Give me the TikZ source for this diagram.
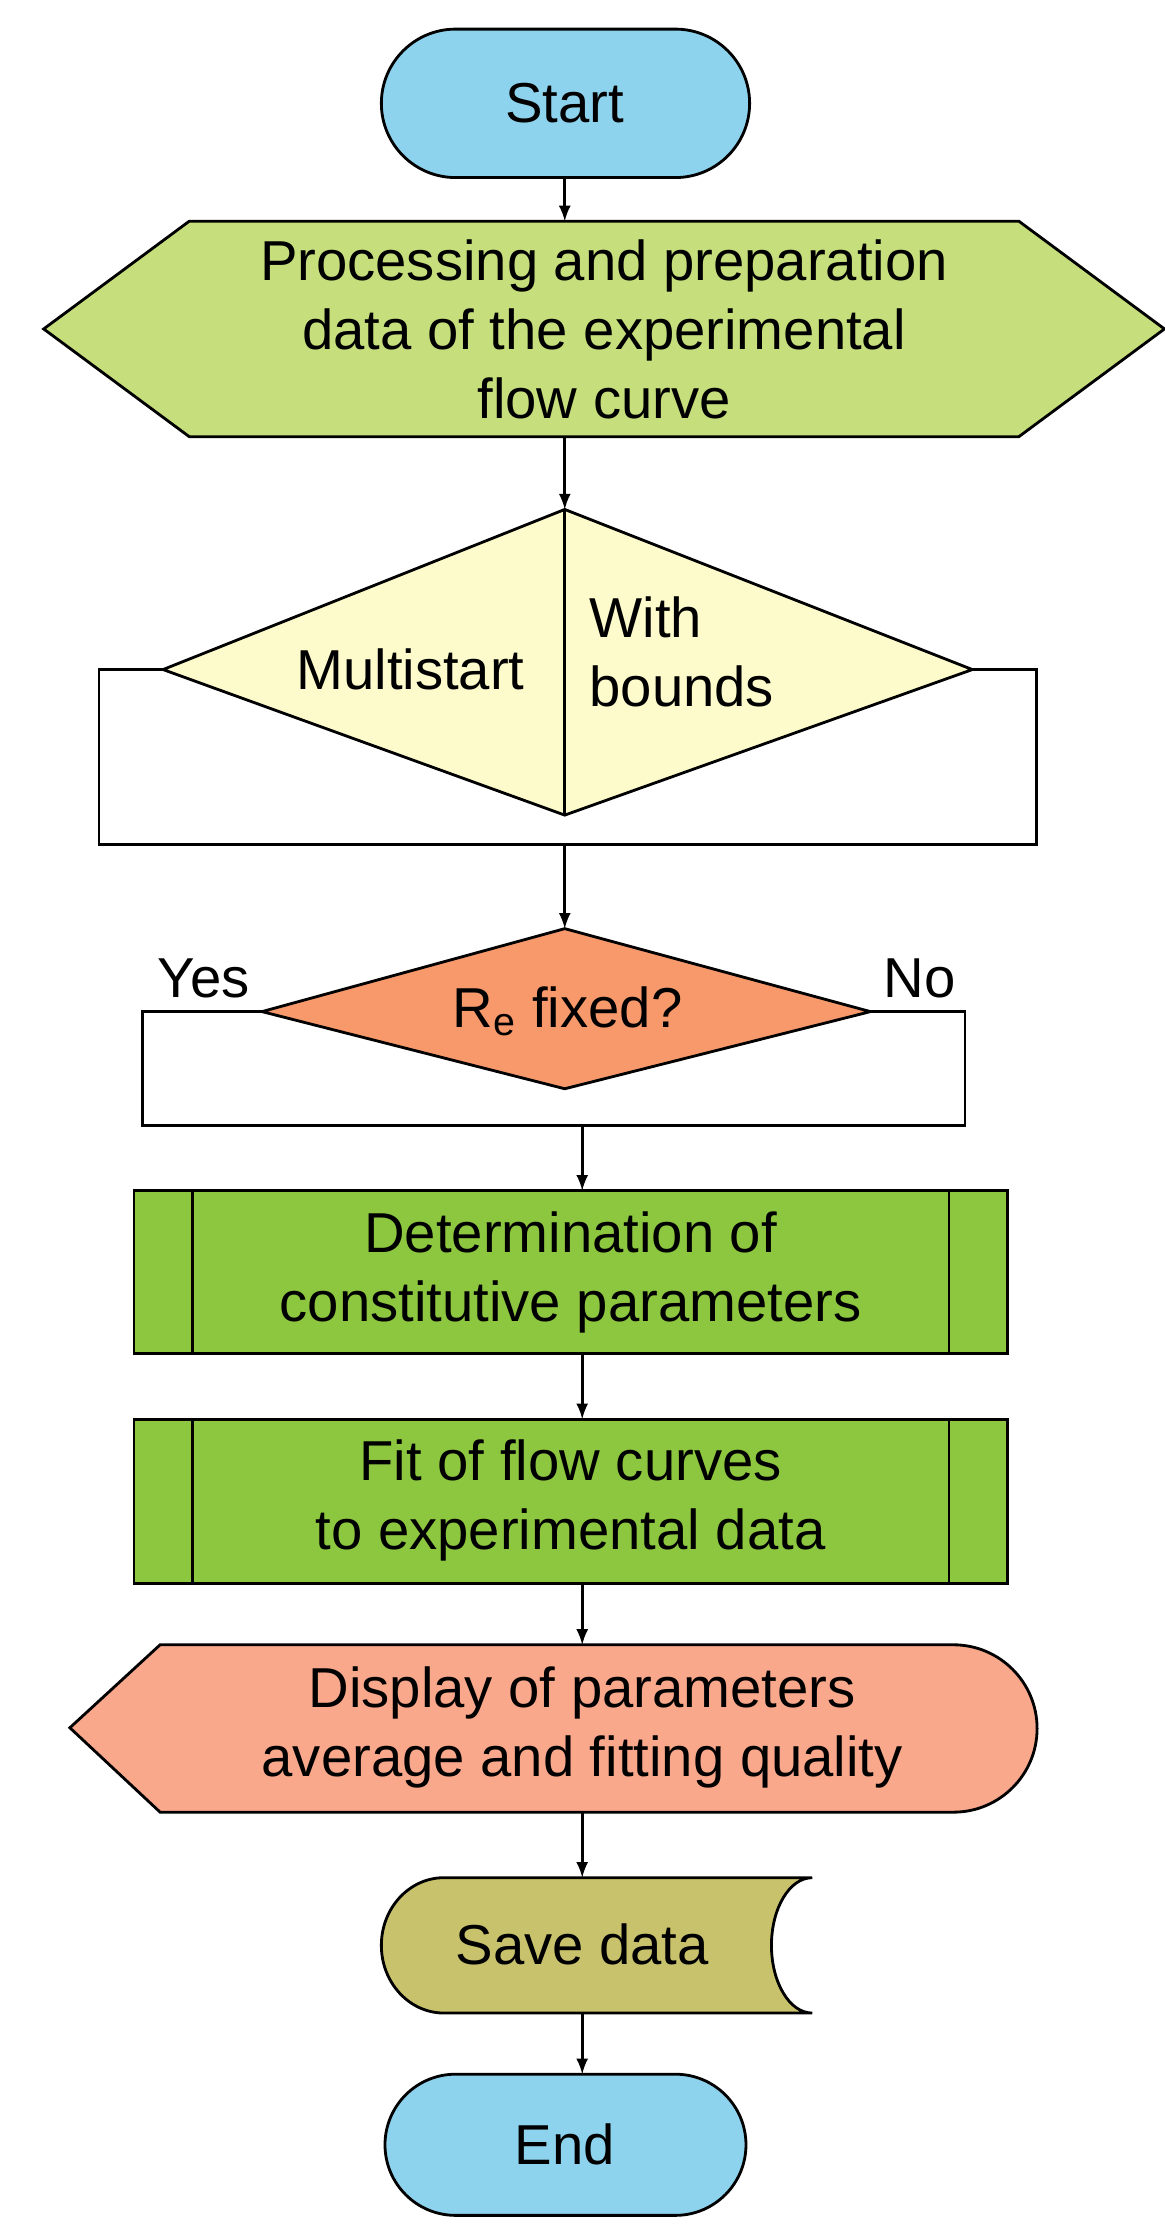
\documentclass[tikz,border=0pt]{standalone}
\usepackage{fontspec}
\setmainfont{Liberation Sans}
\begin{document}
\begin{tikzpicture}[x=0.02cm,y=-0.02cm,line width=1.1pt,
  txt/.style={font=\fontsize{22}{27}\selectfont,align=center,inner sep=0pt},
  arr/.style={->,>={latex},line width=1.1pt}]
\useasboundingbox (0,0) rectangle (800,1530);
\definecolor{cblue}{HTML}{8ED3EE}
\definecolor{cgreenl}{HTML}{C6DE7C}
\definecolor{cyel}{HTML}{FDFBCB}
\definecolor{corange}{HTML}{F7996B}
\definecolor{cgreen}{HTML}{8DC63F}
\definecolor{csalmon}{HTML}{F9A88C}
\definecolor{colive}{HTML}{C9C26C}
% Start
\draw[fill=cblue] (313,20)--(464,20) arc[start angle=-90,end angle=90,radius=51]--(313,122) arc[start angle=90,end angle=270,radius=51]--cycle;
\node[txt] (start) at (388,71) {Start};
\coordinate (startb) at (388,122);
% Hexagon
\draw[fill=cgreenl] (30,226)--(130,152)--(700,152)--(800,226)--(700,300)--(130,300)--cycle;
\node[txt] (prep) at (415,226) {Processing and preparation\\data of the experimental\\flow curve};
\coordinate (prept) at (388,152); \coordinate (prepb) at (388,300);
% Diamond split
\draw (112,460)--(68,460)--(68,580)--(712,580)--(712,460)--(668,460);
\draw[fill=cyel] (112,460)--(388,350)--(668,460)--(388,560)--cycle;
\draw (388,350)--(388,560);
\node[txt] (multi) at (282,460) {Multistart};
\node[txt,align=left,anchor=west] (bounds) at (404,448) {With\\bounds};
\coordinate (dt) at (388,350); \coordinate (db) at (388,580);
% Re diamond
\draw (180,695)--(98,695)--(98,773)--(663,773)--(663,695)--(598,695);
\draw[fill=corange] (180,695)--(388,638)--(598,695)--(388,748)--cycle;
\node[txt] (re) at (390,695) {R\textsubscript{e} fixed?};
\node[txt] (yes) at (140,672) {Yes};
\node[txt] (no) at (632,672) {No};
\coordinate (ret) at (388,638); \coordinate (reb) at (400,773);
% Process boxes
\draw[fill=cgreen] (92,818) rectangle (692,930);
\draw (132,818)--(132,930) (652,818)--(652,930);
\node[txt] (det) at (392,874) {Determination of\\constitutive parameters};
\coordinate (dett) at (400,818); \coordinate (detb) at (400,930);
\draw[fill=cgreen] (92,975) rectangle (692,1088);
\draw (132,975)--(132,1088) (652,975)--(652,1088);
\node[txt] (fit) at (392,1031) {Fit of flow curves\\to experimental data};
\coordinate (fitt) at (400,975); \coordinate (fitb) at (400,1088);
% Display
\draw[fill=csalmon] (48,1187)--(110,1130)--(655,1130) arc[start angle=-90,end angle=90,radius=57.5]--(110,1245)--cycle;
\node[txt] (disp) at (400,1187) {Display of parameters\\average and fitting quality};
\coordinate (dispt) at (400,1130); \coordinate (dispb) at (400,1245);
% Save data
\draw[fill=colive] (305,1290)--(558,1290) arc[start angle=-90,end angle=-270,x radius=28,y radius=46.5]--(305,1383) arc[start angle=90,end angle=270,x radius=43,y radius=46.5]--cycle;
\node[txt] (save) at (400,1336) {Save data};
\coordinate (savet) at (400,1290); \coordinate (saveb) at (400,1383);
% End
\draw[fill=cblue] (313,1425)--(464,1425) arc[start angle=-90,end angle=90,radius=48.5]--(313,1522) arc[start angle=90,end angle=270,radius=48.5]--cycle;
\node[txt] (endn) at (388,1473) {End};
\coordinate (endt) at (400,1425);
% arrows
\draw[arr] (startb)--(prept);
\draw[arr] (prepb)--(dt);
\draw[arr] (db)--(ret);
\draw[arr] (reb)--(dett);
\draw[arr] (detb)--(fitt);
\draw[arr] (fitb)--(dispt);
\draw[arr] (dispb)--(savet);
\draw[arr] (saveb)--(endt);
\end{tikzpicture}
\end{document}
